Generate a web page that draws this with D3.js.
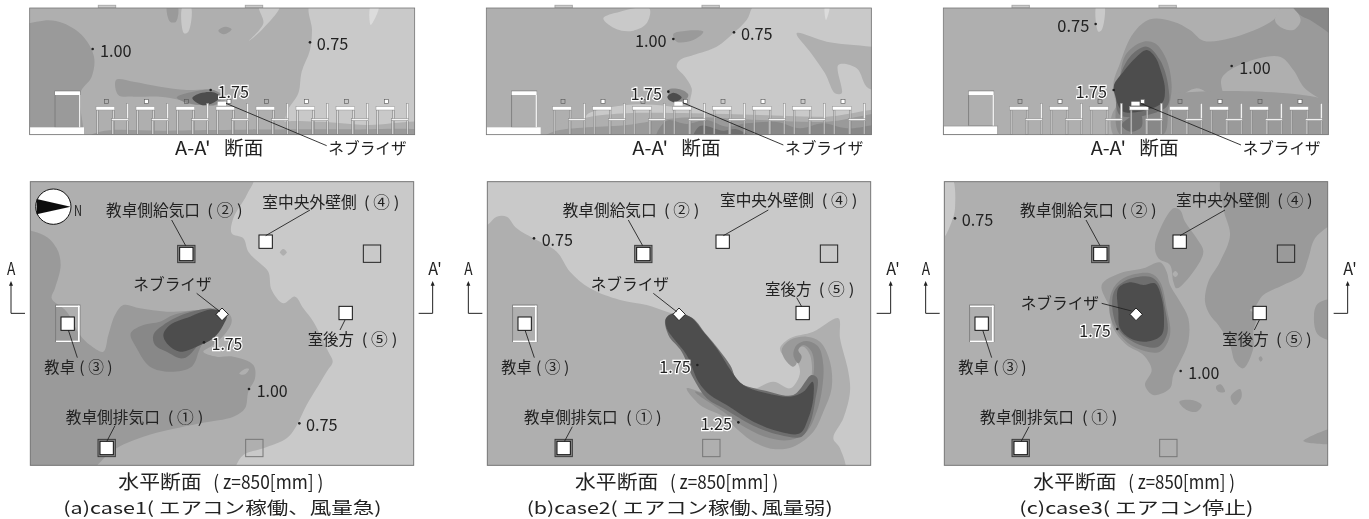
<!DOCTYPE html>
<html>
<head>
<meta charset="utf-8">
<script src="https://cdn.jsdelivr.net/npm/d3@7"></script>
<style>
  html, body { margin: 0; padding: 0; background: #fff; overflow: hidden; }
  text { font-family: "Noto Sans CJK JP", sans-serif; fill: #222; dominant-baseline: central; }
</style>
</head>
<body>
<div id="chart"></div>
<script>
// contour levels as printed in the figure, and their greys
const levels = [0.25, 0.5, 0.75, 1.0, 1.25, 1.5, 1.75];
const levelGreys = ["#dcdcdc", "#c9c9c9", "#afafaf", "#9a9a9a", "#888888", "#6e6e6e", "#4e4e4e"];

// Contours are [level, outline] in crop units
// (3 units = 1 px), painted in order.
const sectionA = [
  [0.75, [[20,0],[1300,0],[1300,440],[20,440]]],
  [0.5, [[932,10],[1300,10],[1300,440],[860,440],[860,340],[895,280],[905,215],[930,150],[936,90]]],
  [0.5, [[778,20],[838,20],[790,85],[748,122],[790,70]]],
  [0.5, [[548,20],[572,20],[565,95],[552,100]]],
  [0.25, [[1112,20],[1136,20],[1112,75]]],
  [1.0, [[40,100],[130,62],[190,70],[250,110],[282,170],[275,230],[240,280],[240,420],[40,420]]],
  [1.0, [[502,15],[532,15],[528,65],[510,65]]],
  [1.0, [[655,92],[675,80],[695,88],[672,103]]],
  [1.0, [[348,240],[400,245],[480,260],[560,270],[640,270],[680,295],[650,315],[600,315],[540,300],[480,290],[400,290],[355,285]]],
  [0.75, [[820,440],[830,375],[950,365],[1100,375],[1300,375],[1300,440]]],
  [1.0, [[252,420],[300,395],[500,392],[900,388],[1050,388],[1300,398],[1300,420]]],
  [1.25, [[530,292],[580,275],[640,270],[665,290],[650,312],[600,315],[550,305]]],
  [1.75, [[577,295],[600,280],[640,277],[660,290],[640,308],[605,315]]]
];
const sectionB = [
  [0.75, [[20,0],[1300,0],[1300,440],[20,440]]],
  [0.5, [[890,10],[1300,10],[1300,330],[695,330],[695,265],[675,230],[650,200],[660,180],[700,165],[770,140],[820,100],[860,60]]],
  [0.5, [[430,55],[480,35],[568,25],[560,70],[520,92],[470,88]]],
  [0.25, [[1095,20],[1108,20],[1098,60]]],
  [0.75, [[1010,100],[1100,125],[1300,165],[1300,265],[1225,265],[1190,205],[1135,195],[1145,280],[1125,280],[1095,220],[1050,155]]],
  [1.0, [[640,102],[680,92],[730,95],[700,120],[650,125]]],
  [0.5, [[380,345],[500,315],[620,318],[700,330],[1300,320],[1300,360],[380,360]]],
  [0.75, [[243,420],[243,395],[385,352],[500,340],[700,340],[900,345],[1100,350],[1300,335],[1300,420]]],
  [1.0, [[243,420],[280,395],[500,375],[600,360],[700,352],[900,360],[1100,365],[1300,345],[1300,420]]],
  [1.25, [[590,420],[620,362],[680,372],[740,360],[800,380],[860,370],[950,366],[1020,385],[1090,370],[1160,385],[1300,375],[1300,420]]],
  [1.5, [[700,420],[720,378],[790,392],[830,388],[880,420]]],
  [1.25, [[625,270],[660,268],[685,285],[670,305],[640,308]]],
  [1.75, [[622,290],[640,278],[665,292],[650,305],[630,302]]]
];
const sectionC = [
  [0.75, [[20,0],[1300,0],[1300,440],[20,440]]],
  [0.5, [[560,15],[582,15],[575,90],[565,95]]],
  [1.0, [[610,260],[630,190],[670,100],[720,58],[790,65],[840,90],[880,122],[960,115],[1090,60],[1125,10],[1300,10],[1300,312],[1190,270],[1150,210],[1110,170],[1000,190],[935,235],[940,300],[910,290],[860,265],[800,300],[780,330],[640,340]]],
  [1.0, [[620,320],[1300,320],[1300,420],[620,420]]],
  [0.75, [[1120,15],[1140,15],[1172,60],[1150,90],[1110,80],[1095,60]]],
  [1.25, [[1145,10],[1240,10],[1300,130],[1245,90],[1200,60],[1170,45]]],
  [1.25, [[630,230],[650,160],[700,125],[735,130],[770,180],[785,260],[775,330],[760,404],[630,404]]],
  [1.5, [[625,250],[660,170],[710,140],[750,180],[775,260],[770,320],[630,345]]],
  [1.5, [[635,375],[690,340],[695,380],[660,395]]],
  [1.75, [[612,255],[640,215],[680,170],[710,150],[735,170],[755,220],[765,270],[755,310],[640,335],[615,285]]]
];
const planA = [
  [0.5, [[50,0],[1300,0],[1300,900],[50,900]]],
  [0.75, [[50,0],[760,0],[740,60],[700,130],[695,175],[730,190],[745,230],[780,265],[805,290],[815,345],[850,385],[885,365],[910,400],[940,440],[985,530],[998,560],[980,590],[950,640],[920,690],[885,760],[860,790],[790,820],[730,840],[680,900],[50,900]]],
  [0.75, [[840,232],[850,222],[860,232],[850,242]]],
  [1.0, [[40,175],[130,180],[170,220],[182,270],[165,340],[155,370],[200,410],[240,480],[270,510],[310,530],[325,480],[345,420],[370,390],[420,400],[500,410],[600,405],[650,400],[690,420],[695,440],[680,470],[640,510],[610,530],[650,545],[700,545],[760,570],[765,610],[745,650],[735,700],[700,725],[600,745],[430,785],[340,825],[250,900],[40,900]]],
  [0.75, [[718,596],[735,582],[747,582],[735,598]]],
  [1.25, [[392,475],[430,450],[480,440],[520,420],[600,405],[650,410],[600,520],[575,575],[510,590],[450,575],[410,520]]],
  [1.5, [[460,480],[490,450],[560,415],[640,405],[600,500],[550,550],[500,530],[465,510]]],
  [1.75, [[490,480],[510,450],[570,425],[640,403],[680,420],[670,450],[640,490],[590,515],[540,530],[505,510]]]
];
const planB = [
  [0.5, [[40,0],[1300,0],[1300,900],[40,900]]],
  [0.75, [[40,170],[82,150],[110,125],[140,125],[170,160],[220,190],[290,230],[330,290],[390,340],[480,375],[560,390],[620,410],[680,430],[740,480],[810,570],[830,615],[880,640],[940,620],[990,640],[1010,620],[1020,590],[1010,560],[970,540],[960,520],[990,490],[1060,470],[1135,430],[1140,490],[1165,590],[1170,650],[1150,730],[1120,790],[1140,820],[1150,900],[40,900]]],
  [1.0, [[680,640],[720,650],[760,660],[800,680],[1000,680],[1040,640],[1055,600],[1050,540],[1030,515],[1005,530],[1010,565],[1000,575],[980,560],[965,525],[990,495],[1040,485],[1080,500],[1110,560],[1115,640],[1090,710],[1060,770],[1000,815],[940,822],[880,800],[840,770],[790,725],[720,690]]],
  [1.25, [[705,650],[750,660],[1030,660],[1060,600],[1055,530],[1030,510],[1015,525],[1025,545],[1015,565],[1000,540],[1010,510],[1040,498],[1075,515],[1090,570],[1085,650],[1070,710],[1040,770],[990,795],[930,790],[860,760],[790,710]]],
  [1.5, [[618,430],[690,425],[740,480],[810,570],[835,620],[920,648],[1000,660],[1055,600],[1072,610],[1065,680],[1050,745],[1025,785],[960,780],[880,752],[790,700],[740,670],[700,610],[665,530],[625,480]]],
  [1.75, [[618,430],[640,415],[690,425],[730,470],[770,520],[815,590],[850,630],[920,655],[990,665],[1030,650],[1058,620],[1060,670],[1045,730],[1020,775],[960,770],[880,740],[800,690],[750,660],[715,620],[680,540],[640,490],[620,460]]]
];
const planC = [
  [0.75, [[50,0],[1300,0],[1300,900],[50,900]]],
  [0.5, [[60,0],[122,0],[135,100],[125,140],[95,195],[60,200]]],
  [1.0, [[940,0],[1300,0],[1300,110],[1215,190],[1195,250],[1175,300],[1120,330],[1060,360],[1035,395],[1020,405],[1040,420],[1030,470],[1030,520],[1000,580],[975,560],[960,510],[925,450],[900,420],[885,380],[895,320],[930,260],[960,180],[940,100]]],
  [1.0, [[1300,375],[1225,385],[1212,420],[1225,480],[1300,495]]],
  [1.0, [[575,330],[630,295],[700,280],[750,262],[770,290],[780,330],[810,380],[835,430],[835,500],[810,560],[790,600],[780,640],[730,660],[705,630],[725,585],[700,540],[650,510],[610,460],[600,400]]],
  [1.0, [[735,210],[790,100],[810,105],[825,140],[860,190],[880,230],[850,290],[800,340],[790,320],[780,270],[745,250]]],
  [0.75, [[788,297],[796,288],[804,297],[796,306]]],
  [1.0, [[808,680],[845,675],[875,690],[860,710],[830,705]]],
  [1.0, [[918,635],[932,628],[945,650],[925,650]]],
  [1.0, [[962,665],[990,642],[995,665],[975,690]]],
  [1.0, [[1300,755],[1180,798],[1300,800]]],
  [1.0, [[1046,550],[1052,544],[1058,552],[1052,560]]],
  [1.25, [[605,350],[640,310],[720,295],[750,320],[770,400],[780,480],[750,530],[680,520],[630,480],[600,420]]],
  [1.5, [[612,350],[650,315],[720,305],[745,325],[765,400],[772,475],[745,515],[690,510],[632,472],[610,420]]],
  [1.75, [[625,340],[660,322],[700,330],[735,325],[755,370],[762,430],[755,480],[710,500],[660,490],[630,460],[625,410]]]
];

// Room furniture and markers, crop units of column (a)
const deskColumns = [288, 408, 528, 648, 768, 888, 1008, 1128];
const outlets = [[559,237],[320,819]];
const openSquares = [[1116,236,"#222"],[763,819,"#777"]];
const whiteSquares = [[797,200],[203,446],[1037,414]];

// Texts: [string, left, right, y]
const sectionNames = [
  [["ネブライザ",985,1220,440]],
  [["ネブライザ",975,1210,440]],
  [["ネブライザ",998,1232,440]]
];
const sectionValues = [
  [["1.00",300,395,147],["0.75",950,1045,127]],
  [["1.00",525,620,118],["0.75",843,938,97]],
  [["0.75",442,538,72],["1.00",988,1082,198]]
];
const sectionHalo = [[["1.75",653,747,270]],[["1.75",512,606,277]],[["1.75",497,591,270]]];
const sectionDots = [[[278,147],[930,127],[632,270]],[[640,117],[822,97],[625,275]],[[557,72],[965,198],[611,270]]];
const sectionTitles = [
  [["A-A'",525,632,440],["断面",672,790,440]],
  [["A-A'",517,624,440],["断面",664,782,440]],
  [["A-A'",542,648,440],["断面",688,806,440]]
];
const sectionLeaders = [[678,310,980,437],[668,308,970,435],[692,310,993,435]];

const planNames = [
  [["教卓側給気口",318,600,103],["( ② )",622,728,103],["室中央外壁側",787,1070,77],["( ④ )",1092,1198,77],["ネブライザ",400,635,325],["教卓",133,225,573],["( ③ )",238,338,573],["室後方",923,1062,490],["( ⑤ )",1085,1192,490],["教卓側排気口",197,480,724],["( ① )",503,610,724]],
  [["教卓側給気口",308,590,103],["( ② )",612,718,103],["室中央外壁側",780,1062,73],["( ④ )",1085,1192,73],["ネブライザ",392,627,325],["教卓",124,215,573],["( ③ )",228,328,573],["室後方",915,1054,338],["( ⑤ )",1076,1183,338],["教卓側排気口",192,473,722],["( ① )",498,605,722]],
  [["教卓側給気口",330,612,103],["( ② )",634,740,103],["室中央外壁側",798,1080,73],["( ④ )",1102,1208,73],["ネブライザ",332,567,382],["教卓",145,237,573],["( ③ )",250,350,573],["室後方",937,1076,490],["( ⑤ )",1098,1205,490],["教卓側排気口",210,492,722],["( ① )",516,622,722]]
];
const planValues = [
  [["1.00",770,863,642],["0.75",918,1013,745]],
  [["0.75",245,339,190]],
  [["0.75",155,250,130],["1.00",835,928,588]]
];
const planHalo = [[["1.75",635,727,502]],[["1.75",598,692,570],["1.25",722,816,742]],[["1.75",508,602,462]]];
const planDots = [[[612,502],[747,642],[898,745]],[[222,190],[712,570],[835,742]],[[135,130],[622,462],[812,588]]];
const planLeaders = [
  [[515,135,557,212],[930,105,797,182],[590,355,660,410],[205,465,232,548],[1035,435,1020,465],[345,752,320,800]],
  [[505,135,548,212],[925,105,790,182],[580,355,650,410],[195,465,223,548],[1010,368,1025,395],[337,755,313,800]],
  [[528,135,570,212],[945,105,810,182],[575,385,665,408],[218,465,245,548],[1048,435,1033,465],[357,755,333,800]]
];
const planTitles = [
  [["水平断面",355,605,915],["( z=850[mm] )",640,970,915]],
  [["水平断面",345,595,915],["( z=850[mm] )",630,955,915]],
  [["水平断面",370,620,915],["( z=850[mm] )",655,975,915]]
];
const caseTitles = [
  [["(a)case1( エアコン稼働、風量急)",190,1145,995]],
  [["(b)case2( エアコン稼働､風量弱)",200,1118,995]],
  [["(c)case3( エアコン停止)",328,1030,995]]
];
const markLeft = [33, 25, 47];
const markRight = [1298, 1292, 1313];

const columnLeft = [0, 460, 910];       // px offset of each crop
const planFrame = [[91,1241],[82,1232],[103,1253]];
const sectionFrame = [[89,1244],[79,1235],[100,1256]];

const grey = d3.scaleOrdinal(levels, levelGreys);
const svg = d3.select("#chart").append("svg").attr("width", 1369).attr("height", 519);
svg.append("defs").append("filter").attr("id", "soft")
  .append("feGaussianBlur").attr("stdDeviation", 0.35);
const root = svg.append("g").attr("filter", "url(#soft)");

const yTop = d3.scaleLinear().domain([0, 525]).range([0, 175]);
const yPlan = d3.scaleLinear().domain([0, 1032]).range([175, 519]);
const contour = d3.line().curve(d3.curveCatmullRomClosed.alpha(0.5));

function drawContours(g, rows, x, y) {
  g.selectAll("path.c").data(rows).enter().append("path").attr("class", "c")
    .attr("d", d => contour(d[1].map(p => [x(p[0]), y(p[1])])))
    .attr("fill", d => grey(d[0]));
}
function frame(g, id, x, y, fr, yr) {
  g.append("clipPath").attr("id", id).append("rect")
    .attr("x", x(fr[0])).attr("y", y(yr[0])).attr("width", x(fr[1]) - x(fr[0])).attr("height", y(yr[1]) - y(yr[0]));
  return g.append("g").attr("clip-path", `url(#${id})`);
}
function labels(g, rows, x, y, size, halo) {
  const t = g.selectAll(null).data(rows).enter().append("text")
    .attr("x", d => x(d[1])).attr("y", d => y(d[3]))
    .attr("textLength", d => x(d[2]) - x(d[1])).attr("lengthAdjust", "spacingAndGlyphs")
    .attr("font-size", size).text(d => d[0]);
  if (halo) t.attr("stroke", "#fff").attr("stroke-width", 2.4).attr("paint-order", "stroke");
}
function lines(g, rows, x, y, color, w) {
  g.selectAll(null).data(rows).enter().append("line")
    .attr("x1", d => x(d[0])).attr("y1", d => y(d[1])).attr("x2", d => x(d[2])).attr("y2", d => y(d[3]))
    .attr("stroke", color).attr("stroke-width", w);
}
function dots(g, rows, x, y, color) {
  g.selectAll(null).data(rows).enter().append("circle")
    .attr("cx", d => x(d[0])).attr("cy", d => y(d[1])).attr("r", 1.3).attr("fill", color);
}

[sectionA, sectionB, sectionC].forEach((rows, i) => {
  const x = d3.scaleLinear().domain([0, 1380]).range([columnLeft[i], columnLeft[i] + 460]);
  const dx = sectionFrame[i][0] - sectionFrame[0][0];
  const fx = v => x(v + dx);
  const g = root.append("g");

  // ceiling vents
  [295, 736].forEach(v => g.append("rect").attr("x", fx(v)).attr("y", yTop(16))
    .attr("width", x(52) - x(0)).attr("height", yTop(8)).attr("fill", "#ccc").attr("stroke", "#aaa"));

  const inner = frame(g, `sec${i}`, x, yTop, sectionFrame[i], [24, 404]);
  drawContours(inner, rows, x, yTop);

  // door and platform
  const wall = i === 2 ? 378 : 382;
  inner.append("rect").attr("x", fx(165)).attr("y", yTop(273)).attr("width", x(75) - x(0)).attr("height", yTop(wall - 273))
    .attr("fill", "none").attr("stroke", "#777").attr("stroke-width", 0.8);
  inner.append("rect").attr("x", fx(165)).attr("y", yTop(274)).attr("width", x(75) - x(0)).attr("height", yTop(11)).attr("fill", "#fff");
  inner.append("rect").attr("x", fx(237)).attr("y", yTop(285)).attr("width", x(4) - x(0)).attr("height", yTop(wall - 285)).attr("fill", "#eee");
  inner.append("rect").attr("x", fx(89)).attr("y", yTop(wall)).attr("width", x(163) - x(0)).attr("height", yTop(404 - wall))
    .attr("fill", "#fff").attr("stroke", "#999").attr("stroke-width", i === 2 ? 0.8 : 0);

  // desks and chairs
  deskColumns.forEach((d, k) => {
    const leg = (v, top) => inner.append("rect").attr("x", fx(v)).attr("y", yTop(top)).attr("width", x(5) - x(0))
      .attr("height", yTop(404 - top)).attr("fill", "#e2e2e2").attr("fill-opacity", 0.75).attr("stroke", "#777").attr("stroke-width", 0.5);
    leg(d + 2, 330); leg(d + 50, 330); leg(d + 47, 362); leg(d + 92, 362);
    inner.append("rect").attr("x", fx(d)).attr("y", yTop(320)).attr("width", x(56) - x(0)).attr("height", yTop(10))
      .attr("fill", "#fff").attr("stroke", "#999").attr("stroke-width", 0.5);
    inner.append("rect").attr("x", fx(d + 92)).attr("y", yTop(310)).attr("width", x(6) - x(0)).attr("height", yTop(48))
      .attr("fill", "#f2f2f2").attr("stroke", "#888").attr("stroke-width", 0.5);
    inner.append("rect").attr("x", fx(d + 47)).attr("y", yTop(356)).attr("width", x(51) - x(0)).attr("height", yTop(6))
      .attr("fill", "#f2f2f2").attr("stroke", "#888").attr("stroke-width", 0.5);
    inner.append("rect").attr("x", fx(d + 25 + (k === 3 ? 8 : 0))).attr("y", yTop(298)).attr("width", x(12) - x(0)).attr("height", yTop(12))
      .attr("fill", k % 2 ? "#fff" : "none").attr("stroke", "#555").attr("stroke-width", 0.6);
  });
  // nebulizer
  inner.append("rect").attr("x", fx(653)).attr("y", yTop(305)).attr("width", x(25) - x(0)).attr("height", yTop(12)).attr("fill", "#fff");

  g.append("rect").attr("x", x(sectionFrame[i][0])).attr("y", yTop(24)).attr("width", x(1155) - x(0)).attr("height", yTop(380))
    .attr("fill", "none").attr("stroke", "#777").attr("stroke-width", 0.8);

  lines(g, [sectionLeaders[i]], x, yTop, "#222", 0.9);
  dots(g, sectionDots[i], x, yTop, "#222");
  labels(g, sectionNames[i], x, yTop, 15.5);
  labels(g, sectionValues[i], x, yTop, 17);
  labels(g, sectionHalo[i], x, yTop, 17, true);
  labels(g, sectionTitles[i], x, yTop, 19);
});

[planA, planB, planC].forEach((rows, i) => {
  const x = d3.scaleLinear().domain([0, 1380]).range([columnLeft[i], columnLeft[i] + 460]);
  const dx = planFrame[i][0] - planFrame[0][0];
  const fx = v => x(v + dx);
  const g = root.append("g");
  const inner = frame(g, `plan${i}`, x, yPlan, planFrame[i], [20, 871]);
  drawContours(inner, rows, x, yPlan);

  const size = 52 / 3, small = 40 / 3, u = x(1) - x(0);
  outlets.forEach(p => {
    inner.append("rect").attr("x", fx(p[0]) - size / 2).attr("y", yPlan(p[1]) - size / 2).attr("width", size).attr("height", size)
      .attr("fill", "#888").attr("stroke", "#333").attr("stroke-width", 0.9);
    inner.append("rect").attr("x", fx(p[0]) - small / 2).attr("y", yPlan(p[1]) - small / 2).attr("width", small).attr("height", small)
      .attr("fill", "#fff").attr("stroke", "#111").attr("stroke-width", 1);
  });
  openSquares.forEach(p => inner.append("rect").attr("x", fx(p[0]) - size / 2).attr("y", yPlan(p[1]) - size / 2).attr("width", size).attr("height", size)
    .attr("fill", "none").attr("stroke", p[2]).attr("stroke-width", 1));

  // teacher's desk
  inner.append("rect").attr("x", fx(167)).attr("y", yPlan(390)).attr("width", 73 * u).attr("height", 110 * u)
    .attr("fill", "none").attr("stroke", "#777").attr("stroke-width", 0.8);
  [392, 497].forEach(v => inner.append("rect").attr("x", fx(168)).attr("y", yPlan(v)).attr("width", 71 * u).attr("height", 4 * u).attr("fill", "#fff"));
  inner.append("rect").attr("x", fx(234)).attr("y", yPlan(392)).attr("width", 5 * u).attr("height", 108 * u).attr("fill", "#fff");

  whiteSquares.forEach(p => inner.append("rect").attr("x", fx(p[0]) - small / 2).attr("y", yPlan(p[1]) - small / 2).attr("width", small).attr("height", small)
    .attr("fill", "#fff").attr("stroke", "#111").attr("stroke-width", 1));

  // nebulizer
  inner.append("path").attr("d", d3.line()([[fx(648),yPlan(418)],[fx(666),yPlan(399)],[fx(685),yPlan(418)],[fx(666),yPlan(437)]]) + "Z")
    .attr("fill", "#fff").attr("stroke", "#111").attr("stroke-width", 0.9);

  if (i === 0) {
    // north mark
    g.append("circle").attr("cx", x(160)).attr("cy", yPlan(95)).attr("r", 53 * u).attr("fill", "#fff").attr("stroke", "#111").attr("stroke-width", 1);
    g.append("path").attr("d", d3.line()([[x(110),yPlan(72)],[x(212),yPlan(95)],[x(110),yPlan(118)]]) + "Z").attr("fill", "#111");
    labels(g, [["N",222,246,102]], x, yPlan, 15);
  }

  g.append("rect").attr("x", x(planFrame[i][0])).attr("y", yPlan(20)).attr("width", 1150 * u).attr("height", 851 * u)
    .attr("fill", "none").attr("stroke", "#777").attr("stroke-width", 1);

  // section marks A / A'
  [[markLeft[i], markLeft[i] + 42], [markRight[i], markRight[i] - 42]].forEach(e => {
    g.append("path").attr("d", d3.line()([[x(e[0]),yPlan(325)],[x(e[0]),yPlan(415)],[x(e[1]),yPlan(415)]]))
      .attr("fill", "none").attr("stroke", "#222").attr("stroke-width", 1);
    g.append("path").attr("d", d3.line()([[x(e[0]),yPlan(318)],[x(e[0]) - 2,yPlan(332)],[x(e[0]) + 2,yPlan(332)]]) + "Z").attr("fill", "#222");
  });
  labels(g, [["A",markLeft[i] - 12,markLeft[i] + 13,277],["A'",markRight[i] - 13,markRight[i] + 27,277]], x, yPlan, 17);

  lines(g, planLeaders[i], x, yPlan, "#222", 0.9);
  dots(g, planDots[i], x, yPlan, "#222");
  labels(g, planNames[i], x, yPlan, 15.5);
  labels(g, planValues[i], x, yPlan, 17);
  labels(g, planHalo[i], x, yPlan, 17, true);
  labels(g, planTitles[i], x, yPlan, 19);
  labels(g, caseTitles[i], x, yPlan, 16.5);
});
</script>
</body>
</html>
